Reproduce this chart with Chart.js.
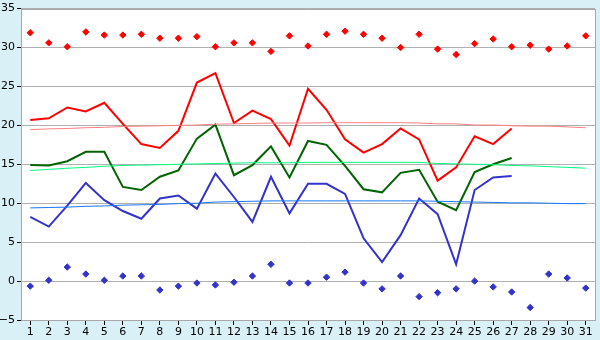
<!DOCTYPE html>
<html>
<head>
<meta charset="utf-8">
<script src="https://cdn.jsdelivr.net/npm/chart.js@4/dist/chart.umd.min.js"></script>
<style>
  html, body { margin: 0; padding: 0; background: #d9f0f7; }
  #wrap { width: 600px; height: 340px; position: relative; }
</style>
</head>
<body>
<div id="wrap"><canvas id="temps"></canvas></div>
<script>
const days = ['1','2','3','4','5','6','7','8','9','10','11','12','13','14','15','16','17','18','19','20','21','22','23','24','25','26','27','28','29','30','31'];

// daily extremes (diamonds)
const maxPoints = [31.9, 30.6, 30.1, 32.0, 31.6, 31.6, 31.7, 31.2, 31.2, 31.4, 30.1, 30.6, 30.6, 29.5, 31.5, 30.2, 31.7, 32.1, 31.7, 31.2, 30.0, 31.7, 29.8, 29.1, 30.5, 31.1, 30.1, 30.3, 29.8, 30.2, 31.5];
const minPoints = [-0.65, 0.1, 1.8, 0.9, 0.1, 0.65, 0.65, -1.15, -0.65, -0.25, -0.5, -0.15, 0.65, 2.15, -0.25, -0.25, 0.5, 1.15, -0.25, -1.0, 0.65, -2.0, -1.5, -1.0, 0.0, -0.75, -1.4, -3.4, 0.9, 0.4, -0.9];

// measured series, days 1-27
const highLine = [20.7, 20.9, 22.3, 21.8, 22.9, 20.2, 17.6, 17.1, 19.3, 25.5, 26.7, 20.3, 21.9, 20.8, 17.4, 24.7, 22.0, 18.2, 16.5, 17.6, 19.6, 18.2, 12.9, 14.6, 18.6, 17.6, 19.6];
const meanLine = [14.9, 14.85, 15.4, 16.6, 16.6, 12.1, 11.7, 13.4, 14.2, 18.3, 20.1, 13.6, 14.9, 17.3, 13.3, 18.0, 17.5, 14.8, 11.8, 11.4, 13.9, 14.3, 10.2, 9.1, 14.0, 15.0, 15.8];
const lowLine = [8.25, 7.0, 9.7, 12.6, 10.4, 9.0, 8.0, 10.6, 11.0, 9.3, 13.8, 10.8, 7.6, 13.4, 8.7, 12.5, 12.5, 11.2, 5.5, 2.45, 5.9, 10.6, 8.6, 2.15, 11.7, 13.3, 13.5];

// long-term normals
const highNormal = [19.45, 19.55, 19.6, 19.7, 19.75, 19.85, 19.9, 19.95, 20.0, 20.05, 20.15, 20.2, 20.25, 20.3, 20.3, 20.3, 20.35, 20.35, 20.35, 20.35, 20.35, 20.3, 20.2, 20.2, 20.05, 20.05, 19.95, 19.9, 19.9, 19.8, 19.7];
const meanNormal = [14.2, 14.35, 14.5, 14.6, 14.75, 14.85, 14.9, 14.95, 15.0, 15.05, 15.1, 15.15, 15.2, 15.2, 15.2, 15.25, 15.25, 15.25, 15.25, 15.25, 15.25, 15.25, 15.1, 15.05, 15.0, 14.95, 14.85, 14.8, 14.7, 14.6, 14.5];
const lowNormal = [9.4, 9.45, 9.5, 9.6, 9.65, 9.75, 9.8, 9.85, 9.95, 10.0, 10.15, 10.2, 10.25, 10.3, 10.3, 10.3, 10.3, 10.3, 10.3, 10.3, 10.3, 10.3, 10.25, 10.2, 10.15, 10.1, 10.05, 10.05, 10.0, 9.95, 9.95];

const frame = {
  id: 'frame',
  beforeDraw(chart) {
    const c = chart.ctx, a = chart.chartArea;
    c.save();
    c.fillStyle = '#d9f0f7';
    c.fillRect(0, 0, chart.width, chart.height);
    c.fillStyle = '#ffffff';
    c.fillRect(a.left, a.top, a.right - a.left, a.bottom - a.top);
    c.restore();
  },
  afterDraw(chart) {
    const c = chart.ctx, a = chart.chartArea;
    c.save();
    c.strokeStyle = '#a8a8a8';
    c.lineWidth = 1;
    c.strokeRect(Math.round(a.left) + 0.5, Math.round(a.top) + 0.5, Math.round(a.right - a.left), Math.round(a.bottom - a.top));
    c.restore();
  }
};

function thin(data, color) {
  return { type: 'line', data: data, borderColor: color, borderWidth: 1, pointRadius: 0, fill: false, tension: 0 };
}
function thick(data, color) {
  return { type: 'line', data: data, borderColor: color, borderWidth: 2, pointRadius: 0, fill: false, tension: 0 };
}
function dots(data, color) {
  return { type: 'line', data: data, showLine: false, pointStyle: 'rectRot', pointRadius: 3.2, pointBackgroundColor: color, pointBorderColor: color, pointBorderWidth: 1 };
}

new Chart(document.getElementById('temps'), {
  type: 'line',
  data: {
    labels: days,
    datasets: [
      thin(highNormal, '#ff8080'),
      thin(meanNormal, '#00ff80'),
      thin(lowNormal, '#1478ff'),
      thick(highLine, '#ff0000'),
      thick(meanLine, '#006400'),
      thick(lowLine, '#3333cc'),
      dots(maxPoints, '#ff0000'),
      dots(minPoints, '#3333cc')
    ]
  },
  options: {
    responsive: true,
    maintainAspectRatio: false,
    animation: false,
    layout: { padding: { top: 5, right: 5, left: 0, bottom: 0 } },
    scales: {
      x: {
        offset: true,
        grid: { offset: false, drawOnChartArea: false, drawTicks: true, tickLength: 5, tickColor: '#000' },
        border: { color: '#a8a8a8' },
        ticks: { color: '#000', font: { family: 'DejaVu Sans', size: 11 }, padding: 1, maxRotation: 0, autoSkip: false },
        afterFit(s) { s.height = 20; }
      },
      y: {
        min: -5,
        max: 35,
        grid: { color: '#b0b0b0', tickLength: 4, tickColor: '#000' },
        border: { color: '#a8a8a8' },
        ticks: {
          stepSize: 5,
          color: '#000',
          padding: 2,
          font: { family: 'DejaVu Sans', size: 11 },
          callback: v => String(v).replace('-', '\u2212')
        },
        afterFit(s) { s.width = 21; }
      }
    },
    plugins: {
      legend: { display: false },
      tooltip: { enabled: false }
    }
  },
  plugins: [frame]
});
</script>
</body>
</html>
